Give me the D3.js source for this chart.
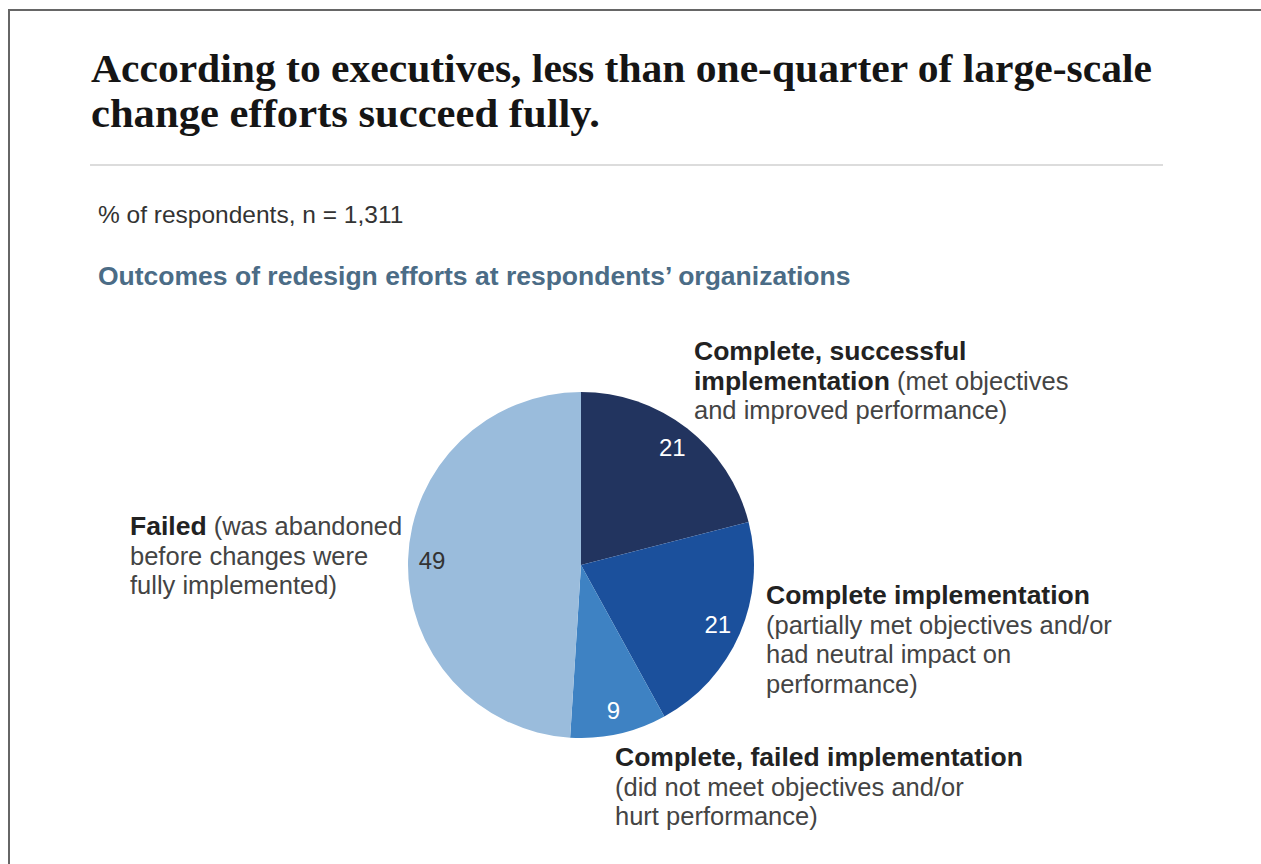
<!DOCTYPE html>
<html lang="en">
<head>
<meta charset="UTF-8">
<title>Outcomes of redesign efforts</title>
<script src="https://d3js.org/d3.v7.min.js"></script>
<style>
    body {
        margin: 0;
        padding: 0;
        background: #fff;
    }
    svg text {
        font-family: "Liberation Sans", Arial, Helvetica, sans-serif;
    }
</style>
</head>
<body>
<svg id="chart" width="1261" height="864"></svg>
<script>
// data
const outcomes = ["Complete, successful", "Complete, partial", "Complete, failed", "Failed"];
const shares = [21, 21, 9, 49];
const sliceColors = ["#22345f", "#1b509c", "#3e82c3", "#9abcdc"];
const valueColors = ["#fff", "#fff", "#fff", "#333"];

// label blocks: each line is [bold part, regular part]
const labelLines = [
    [["Complete, successful", ""], ["implementation", " (met objectives"], ["", "and improved performance)"]],
    [["Complete implementation", ""], ["", "(partially met objectives and/or"], ["", "had neutral impact on"], ["", "performance)"]],
    [["Complete, failed implementation", ""], ["", "(did not meet objectives and/or"], ["", "hurt performance)"]],
    [["Failed", " (was abandoned"], ["", "before changes were"], ["", "fully implemented)"]]
];
const labelAnchors = [[694, 360], [766, 604], [615, 766], [130, 535]];

const svg = d3.select("#chart");

// frame: top and left rules
svg.append("line").attr("x1", 9).attr("x2", 1261).attr("y1", 10).attr("y2", 10)
    .attr("stroke", "#666").attr("stroke-width", 2);
svg.append("line").attr("x1", 9).attr("x2", 9).attr("y1", 9).attr("y2", 864)
    .attr("stroke", "#666").attr("stroke-width", 2);

// title (stretched a bit to match the wider serif in the original)
const title = svg.append("text")
    .attr("x", 91).attr("y", 82)
    .style("font-family", "'Liberation Serif', 'Times New Roman', serif")
    .style("font-weight", "bold")
    .style("font-size", "39px")
    .attr("fill", "#151515");
title.append("tspan").attr("x", 91)
    .attr("textLength", 1061).attr("lengthAdjust", "spacingAndGlyphs")
    .text("According to executives, less than one-quarter of large-scale");
title.append("tspan").attr("x", 91).attr("dy", 45)
    .attr("textLength", 509).attr("lengthAdjust", "spacingAndGlyphs")
    .text("change efforts succeed fully.");

svg.append("line").attr("x1", 90).attr("x2", 1163).attr("y1", 165).attr("y2", 165)
    .attr("stroke", "#dcdcdc").attr("stroke-width", 2);

svg.append("text")
    .attr("x", 98).attr("y", 223)
    .style("font-size", "24.5px")
    .attr("fill", "#333")
    .text("% of respondents, n = 1,311");

svg.append("text")
    .attr("x", 98).attr("y", 285)
    .style("font-size", "26.5px")
    .style("font-weight", "bold")
    .attr("fill", "#4b6c86")
    .text("Outcomes of redesign efforts at respondents\u2019 organizations");

// pie
const cx = 581, cy = 565, radius = 173;
const pie = d3.pie().sort(null).value(d => d)(shares);
const arc = d3.arc().innerRadius(0).outerRadius(radius);
const labelArc = d3.arc().innerRadius(149).outerRadius(149);

const g = svg.append("g").attr("transform", `translate(${cx},${cy})`);

g.selectAll("path")
    .data(pie)
    .join("path")
    .attr("d", arc)
    .attr("fill", (d, i) => sliceColors[i]);

g.selectAll("text.value")
    .data(pie)
    .join("text")
    .attr("class", "value")
    .attr("transform", d => `translate(${labelArc.centroid(d)})`)
    .attr("text-anchor", "middle")
    .attr("dy", "0.36em")
    .style("font-size", "24px")
    .attr("fill", (d, i) => valueColors[i])
    .text(d => d.data);

// category labels
labelLines.forEach((lines, i) => {
    const t = svg.append("text")
        .attr("x", labelAnchors[i][0])
        .attr("y", labelAnchors[i][1]);
    lines.forEach((ln, j) => {
        const first = t.append("tspan")
            .attr("x", labelAnchors[i][0])
            .attr("dy", j === 0 ? 0 : 29.7);
        if (ln[0]) {
            first.style("font-weight", "bold").style("font-size", "26.5px")
                .attr("fill", "#222").text(ln[0]);
            if (ln[1]) t.append("tspan").style("font-size", "25.5px")
                .attr("fill", "#444").text(ln[1]);
        } else {
            first.style("font-size", "25.5px").attr("fill", "#444").text(ln[1]);
        }
    });
});
</script>
</body>
</html>
